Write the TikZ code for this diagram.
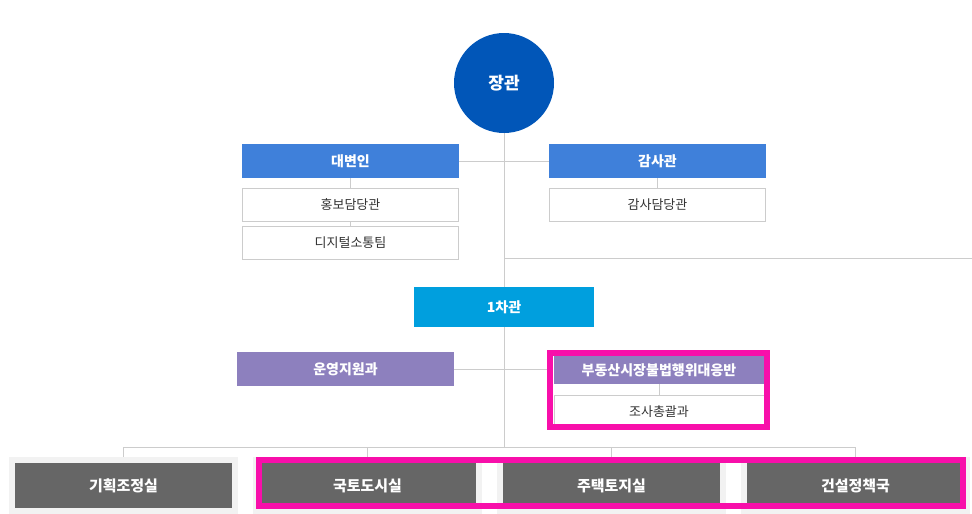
\documentclass[tikz,border=0pt]{standalone}
\usepackage{fontspec}
\setmainfont{Noto Sans CJK KR}
\usetikzlibrary{backgrounds}
\definecolor{minblue}{HTML}{0156B8}
\definecolor{headblue}{HTML}{3F80DA}
\definecolor{vicecyan}{HTML}{009FDE}
\definecolor{purp}{HTML}{8D80BE}
\definecolor{darkbox}{HTML}{666666}
\definecolor{lightbg}{HTML}{F2F2F2}
\definecolor{linegray}{HTML}{CCCCCC}
\definecolor{txtgray}{HTML}{333333}
\definecolor{hilite}{HTML}{F80FAA}
\tikzset{
  base/.style={rectangle, inner sep=0pt, outer sep=0pt},
  headbox/.style={base, fill=headblue, minimum width=217pt, minimum height=34pt,
    text=white, font=\bfseries\fontsize{14}{16}\selectfont},
  subbox/.style={base, draw=linegray, line width=1pt, fill=white, minimum width=216pt, minimum height=33pt,
    text=txtgray, font=\fontsize{13}{15}\selectfont},
  purpbox/.style={base, fill=purp, text=white, font=\bfseries\fontsize{14}{16}\selectfont},
  bgcol/.style={base, fill=lightbg, minimum width=229pt, minimum height=57pt},
  deptbox/.style={base, fill=darkbox, minimum width=217pt, minimum height=45pt,
    text=white, font=\bfseries\fontsize{15}{17}\selectfont},
  conn/.style={draw=linegray, line width=1pt},
  frame/.style={base, draw=hilite, line width=6pt},
}
\begin{document}
\begin{tikzpicture}[x=1pt,y=-1pt]
\useasboundingbox (0,0) rectangle (972,514);
% nodes
\node[base, circle, fill=minblue, minimum size=100pt, text=white,
  font=\bfseries\fontsize{17}{19}\selectfont] (jang) at (504,83) {장관};
\node[headbox] (daeb) at (350.5,161) {대변인};
\node[headbox] (gams) at (657.5,161) {감사관};
\node[subbox] (hong) at (350.5,205) {홍보담당관};
\node[subbox] (digi) at (350.5,243) {디지털소통팀};
\node[subbox] (gamd) at (657.5,205) {감사담당관};
\node[base, fill=vicecyan, minimum width=180pt, minimum height=40pt, text=white,
  font=\bfseries\fontsize{14}{16}\selectfont] (cha) at (504,307) {1차관};
\node[purpbox, minimum width=217pt, minimum height=34pt] (unyo) at (345.5,369) {운영지원과};
\node[purpbox, minimum width=210pt, minimum height=28pt] (budo) at (659,370) {부동산시장불법행위대응반};
\node[subbox, minimum width=210pt, minimum height=34pt] (josa) at (659,412) {조사총괄과};
\node[frame, minimum width=217pt, minimum height=74pt] (pinkA) at (658.5,390) {};
% bottom row
\node[bgcol] (bg1) at (123.5,485.5) {};
\node[bgcol] (bg2) at (367.5,485.5) {};
\node[bgcol] (bg3) at (611.5,485.5) {};
\node[bgcol] (bg4) at (855.5,485.5) {};
\node[deptbox] (d1) at (123.5,485.5) {기획조정실};
\node[deptbox] (d2) at (367.5,485.5) {국토도시실};
\node[deptbox] (d3) at (611.5,485.5) {주택토지실};
\node[deptbox] (d4) at (855.5,485.5) {건설정책국};
\node[frame, minimum width=704pt, minimum height=46pt] (pinkB) at (611,483) {};
% connector points
\coordinate (bus) at (504,447);
\coordinate (redge) at (972,258);
\begin{scope}[on background layer]
\draw[conn] (jang.south) -- (bus);
\draw[conn] (daeb.east) -- (gams.west);
\draw[conn] (jang.south |- redge) -- (redge);
\draw[conn] (unyo.east) -- (unyo.east -| pinkA.west);
\draw[conn] (daeb.south) -- (hong.north);
\draw[conn] (hong.south) -- (digi.north);
\draw[conn] (gams.south) -- (gamd.north);
\draw[conn] (budo.south) -- (josa.north);
\draw[conn] (bg1.north) -- (bg1.north |- bus) -- (bg4.north |- bus) -- (bg4.north);
\draw[conn] (bg2.north) -- (bg2.north |- bus);
\draw[conn] (bg3.north) -- (bg3.north |- bus);
\end{scope}
\end{tikzpicture}
\end{document}
